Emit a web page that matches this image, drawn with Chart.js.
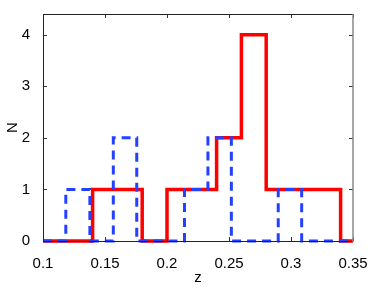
<!DOCTYPE html>
<html>
<head>
<meta charset="utf-8">
<script src="https://cdn.jsdelivr.net/npm/chart.js@4/dist/chart.umd.min.js"></script>
<style>
  html, body { margin: 0; padding: 0; background: #fff; }
  #wrap { width: 374px; height: 289px; }
</style>
</head>
<body>
<div id="wrap"><canvas id="hist" width="374" height="289"></canvas></div>
<script>
// red histogram: left bin edges and counts (last point closes at 0)
const redEdges = [0.1, 0.14, 0.18, 0.2, 0.24, 0.26, 0.28, 0.34, 0.35];
const redCounts = [0, 1, 0, 1, 2, 4, 1, 0, 0];

// blue dashed histogram
const blueEdges = [0.1, 0.1184, 0.1378, 0.1567, 0.1756, 0.2141, 0.233, 0.2519, 0.2897, 0.3086, 0.35];
const blueCounts = [0, 1, 0, 2, 0, 1, 2, 0, 1, 0, 0];

const xTicks = [0.1, 0.15, 0.2, 0.25, 0.3, 0.35];
const yTicks = [0, 1, 2, 3, 4];

const toPoints = (xs, ys) => xs.map((x, i) => ({x: x, y: ys[i]}));

// matlab style box with inward ticks
const boxTicks = {
  id: 'boxTicks',
  afterDraw(chart) {
    const ctx = chart.ctx;
    const a = chart.chartArea;
    const xs = chart.scales.x, ys = chart.scales.y;
    const len = 4;
    ctx.save();
    ctx.lineWidth = 1;
    ctx.strokeStyle = '#333';
    xTicks.forEach((v) => {
      const px = Math.round(xs.getPixelForValue(v)) + 0.5;
      ctx.beginPath();
      ctx.moveTo(px, a.bottom); ctx.lineTo(px, a.bottom - len);
      ctx.moveTo(px, a.top); ctx.lineTo(px, a.top + len);
      ctx.stroke();
    });
    yTicks.forEach((v) => {
      const py = Math.round(ys.getPixelForValue(v)) + 0.5;
      ctx.beginPath();
      ctx.moveTo(a.left, py); ctx.lineTo(a.left + len, py);
      ctx.moveTo(a.right, py); ctx.lineTo(a.right - len, py);
      ctx.stroke();
    });
    ctx.strokeStyle = '#222';
    ctx.beginPath();
    ctx.moveTo(a.right, a.top + 0.5);
    ctx.lineTo(a.left + 0.5, a.top + 0.5);
    ctx.lineTo(a.left + 0.5, a.bottom + 0.5);
    ctx.lineTo(a.right, a.bottom + 0.5);
    ctx.stroke();
    ctx.strokeStyle = '#888';
    ctx.lineWidth = 1.5;
    ctx.beginPath();
    ctx.moveTo(a.right, a.top);
    ctx.lineTo(a.right, a.bottom + 1);
    ctx.stroke();
    ctx.restore();
  }
};

Chart.defaults.font.family = '"Liberation Sans", Arial, sans-serif';
Chart.defaults.font.size = 15;
Chart.defaults.color = '#000';

new Chart(document.getElementById('hist'), {
  type: 'line',
  data: {
    datasets: [
      {
        data: toPoints(blueEdges, blueCounts),
        stepped: true,
        borderColor: 'rgb(35,65,255)',
        borderWidth: 3,
        borderDash: [9, 6],
        borderJoinStyle: 'miter',
        pointRadius: 0,
        fill: false,
        clip: false
      },
      {
        data: toPoints(redEdges, redCounts),
        stepped: true,
        borderColor: '#ff0000',
        borderWidth: 3.5,
        borderJoinStyle: 'miter',
        pointRadius: 0,
        fill: false,
        clip: false
      }
    ]
  },
  options: {
    responsive: false,
    animation: false,
    events: [],
    layout: {padding: {top: 5, right: 21, left: 0, bottom: 0}},
    plugins: {legend: {display: false}, tooltip: {enabled: false}},
    scales: {
      x: {
        type: 'linear',
        min: 0.1,
        max: 0.35,
        afterBuildTicks: (scale) => { scale.ticks = xTicks.map((v) => ({value: v})); },
        afterFit: (scale) => { scale.height = 48; },
        ticks: {padding: 6, maxRotation: 0, callback: (v) => String(v)},
        grid: {display: false},
        border: {display: false},
        title: {display: true, text: 'z', padding: {top: 0, bottom: 2}}
      },
      y: {
        min: 0,
        max: 4.4,
        afterBuildTicks: (scale) => { scale.ticks = yTicks.map((v) => ({value: v})); },
        afterFit: (scale) => { scale.width = 43; },
        ticks: {padding: 5, callback: (v) => String(v)},
        grid: {display: false},
        border: {display: false},
        title: {display: true, text: 'N', padding: {top: 4, bottom: 0}}
      }
    }
  },
  plugins: [boxTicks]
});
</script>
</body>
</html>
